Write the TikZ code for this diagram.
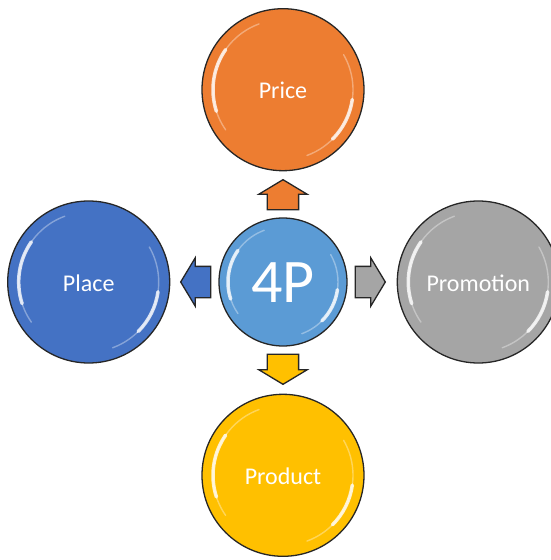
\documentclass[tikz,border=0pt]{standalone}
\usepackage{fontspec}
\setmainfont{Carlito}
\usetikzlibrary{positioning, calc, shapes.arrows}
\definecolor{corefill}{RGB}{91,155,213}
\definecolor{pricefill}{RGB}{237,125,49}
\definecolor{placefill}{RGB}{68,114,196}
\definecolor{promofill}{RGB}{165,165,165}
\definecolor{prodfill}{RGB}{255,192,0}
\tikzset{
  bubble/.style={circle, draw=black!85, line width=1.3pt, minimum size=162pt, inner sep=0pt,
    text=white, text height=18pt, text depth=0pt, font=\fontsize{24}{24}\selectfont},
  pointer/.style={single arrow, draw=black!85, line width=1.3pt, inner xsep=0pt, inner ysep=15pt,
    minimum height=30pt, single arrow head extend=8.5pt, single arrow tip angle=118, anchor=tail},
}
% glossy rims: node, radius
\newcommand{\shine}[2]{%
  \draw[white, opacity=.35, line width=1.4pt, line cap=round]
    ($(#1.center)+(110:#2)$) arc[start angle=110, end angle=215, radius=#2];
  \draw[white, opacity=.8, line width=3.5pt, line cap=round]
    ($(#1.center)+(145:#2)$) arc[start angle=145, end angle=198, radius=#2];
  \draw[white, opacity=.35, line width=1.4pt, line cap=round]
    ($(#1.center)+(-70:#2)$) arc[start angle=-70, end angle=30, radius=#2];
  \draw[white, opacity=.8, line width=3.5pt, line cap=round]
    ($(#1.center)+(-45:#2)$) arc[start angle=-45, end angle=-8, radius=#2];
}

\begin{document}
\begin{tikzpicture}[x=1pt, y=1pt]
  \useasboundingbox (-283,-278) rectangle (267,282);
  \node[bubble, fill=corefill, minimum size=128pt, text height=40pt,
    font=\fontsize{62}{62}\selectfont] (core) {4P};
  \node[bubble, fill=pricefill, above=46pt of core] (price) {Price};
  \node[bubble, fill=placefill, left=48pt of core] (place) {Place};
  \node[bubble, fill=promofill, right=49pt of core] (promo) {Promotion};
  \node[bubble, fill=prodfill, below=47pt of core] (prod) {Product};
  % block arrows in the gaps
  \node[pointer, fill=pricefill, rotate=90] (toprice) at ($(core.north)+(0,7)$) {};
  \node[pointer, fill=placefill, rotate=180] (toplace) at ($(core.west)+(-7,0)$) {};
  \node[pointer, fill=promofill] (topromo) at ($(core.east)+(7,0)$) {};
  \node[pointer, fill=prodfill, rotate=-90] (toprod) at ($(core.south)+(0,-7)$) {};
  \shine{core}{55pt}
  \shine{price}{70pt}
  \shine{place}{70pt}
  \shine{promo}{70pt}
  \shine{prod}{70pt}
\end{tikzpicture}
\end{document}
